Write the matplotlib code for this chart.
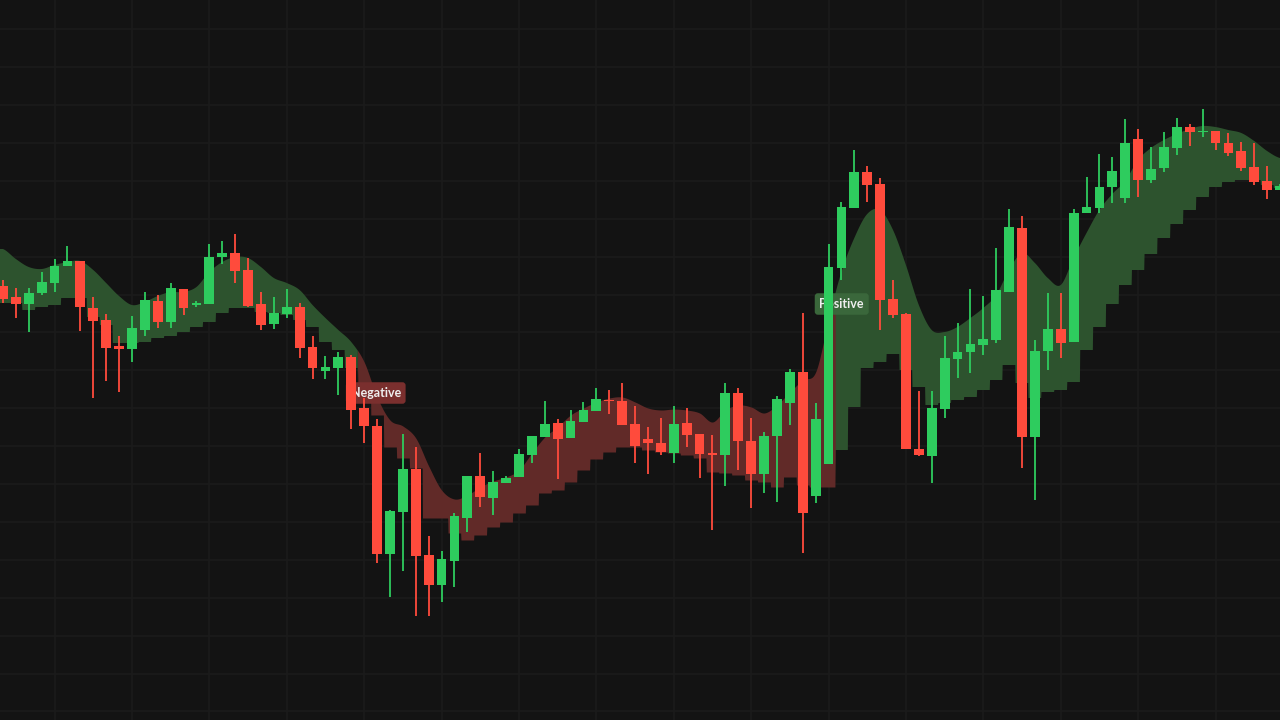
import numpy as np
import matplotlib
matplotlib.use('Agg')
import matplotlib.pyplot as plt

# --- candle data (arbitrary price units) ---
opens = [434, 423, 416, 427, 437, 454, 459, 412, 400, 374,
         371, 390, 419, 398, 431, 415, 416, 463, 467, 450,
         416, 396, 406, 413, 373, 349, 352, 363, 312, 294,
         166, 208, 251, 165, 135, 159, 202, 244, 222, 237,
         243, 265, 283, 297, 282, 298, 309, 320, 319, 296,
         281, 277, 267, 297, 286, 267, 265, 327, 279, 246,
         284, 317, 348, 224, 256, 452, 512, 548, 536, 421,
         406, 271, 264, 311, 361, 368, 375, 380, 428, 492,
         283, 369, 391, 378, 507, 512, 533, 522, 581, 540,
         552, 572, 593, 588, 589, 577, 569, 553, 539, 530]
highs = [440, 432, 432, 448, 461, 474, 459, 423, 406, 384,
         404, 428, 425, 437, 431, 419, 476, 479, 486, 462,
         428, 423, 431, 417, 384, 364, 368, 365, 322, 301,
         210, 286, 273, 184, 169, 207, 244, 267, 249, 244,
         271, 284, 319, 301, 310, 318, 332, 330, 337, 314,
         293, 302, 314, 312, 286, 285, 337, 332, 302, 288,
         324, 351, 407, 317, 476, 518, 570, 554, 542, 440,
         407, 329, 329, 384, 397, 431, 424, 472, 511, 504,
         380, 427, 427, 511, 543, 566, 563, 601, 591, 573,
         588, 602, 596, 611, 589, 587, 578, 577, 554, 536]
lows = [417, 402, 388, 425, 428, 454, 389, 322, 339, 328,
        358, 384, 392, 392, 405, 413, 416, 456, 437, 413,
        390, 391, 402, 362, 341, 341, 325, 291, 277, 157,
        123, 149, 104, 104, 118, 133, 188, 213, 205, 237,
        243, 257, 283, 241, 282, 298, 309, 306, 295, 257,
        246, 265, 257, 273, 242, 190, 234, 250, 212, 227,
        218, 295, 167, 217, 256, 440, 512, 518, 390, 402,
        271, 264, 237, 302, 342, 347, 365, 377, 428, 252,
        220, 350, 362, 378, 507, 507, 517, 517, 523, 537,
        548, 565, 574, 583, 570, 564, 549, 535, 521, 530]
closes = [421, 416, 427, 438, 454, 459, 413, 399, 372, 371,
          392, 420, 398, 432, 412, 417, 463, 467, 449, 414,
          395, 407, 413, 372, 352, 353, 363, 310, 294, 166,
          209, 251, 164, 135, 161, 204, 244, 223, 238, 242,
          266, 284, 296, 281, 299, 310, 321, 319, 295, 274,
          277, 268, 296, 285, 266, 265, 327, 279, 246, 284,
          321, 348, 207, 301, 453, 513, 548, 535, 420, 405,
          271, 265, 312, 362, 368, 376, 381, 430, 493, 283,
          369, 391, 377, 507, 513, 533, 549, 577, 540, 551,
          573, 593, 588, 589, 577, 567, 552, 538, 530, 534]

# --- band: smooth upper line and stepped lower line ---
band_top = [471, 461, 453, 451, 455, 458, 459, 450, 437, 424,
            415, 418, 424, 428, 428, 433, 448, 458, 463, 462,
            453, 442, 437, 430, 415, 402, 390, 378, 358, 323,
            300, 294, 282, 254, 230, 221, 225, 233, 239, 243,
            250, 267, 283, 293, 305, 312, 318, 322, 323, 318,
            312, 310, 311, 310, 307, 298, 310, 315, 313, 307,
            315, 328, 340, 348, 400, 448, 482, 506, 510, 490,
            455, 415, 390, 388, 393, 402, 412, 425, 450, 467,
            457, 442, 435, 462, 487, 510, 526, 539, 560, 572,
            580, 586, 591, 594, 593, 590, 587, 579, 569, 562]
band_bottom = [417, 417, 410, 413, 415, 422, 422, 403, 395, 377,
               377, 378, 382, 384, 388, 393, 398, 407, 412, 412,
               408, 407, 405, 400, 393, 378, 370, 352, 337, 305,
               273, 262, 252, 202, 202, 187, 180, 185, 193, 198,
               207, 215, 227, 230, 238, 250, 261, 268, 273, 273,
               270, 268, 267, 265, 262, 248, 247, 245, 240, 238,
               233, 243, 235, 233, 233, 270, 313, 352, 358, 366,
               350, 333, 315, 317, 320, 323, 330, 340, 355, 337,
               322, 328, 330, 338, 370, 393, 416, 435, 450, 466,
               482, 496, 510, 523, 533, 538, 540, 540, 535, 532]

neg_start = 28   # first candle of the negative regime
pos_start = 65   # first candle of the following positive regime

BG = '#131313'
GRID = '#1b1b1b'
UP = '#2ecc5e'
DOWN = '#ff4b3c'
BAND_UP = '#2d532e'
BAND_DOWN = '#612a28'


def catmull_rom(y, n=24):
    """smooth curve through the points (i, y[i]) for drawing only"""
    y = np.asarray(y, dtype=float)
    pad = np.concatenate([[y[0]], y, [y[-1]]])
    xs, ys = [], []
    t = np.linspace(0, 1, n, endpoint=False)
    for i in range(len(y) - 1):
        p0, p1, p2, p3 = pad[i], pad[i + 1], pad[i + 2], pad[i + 3]
        seg = 0.5 * ((2 * p1) + (-p0 + p2) * t +
                     (2 * p0 - 5 * p1 + 4 * p2 - p3) * t ** 2 +
                     (-p0 + 3 * p1 - 3 * p2 + p3) * t ** 3)
        xs.append(i + t)
        ys.append(seg)
    xs.append([len(y) - 1])
    ys.append([y[-1]])
    return np.concatenate(xs), np.concatenate(ys)


n = len(closes)
idx = np.arange(n)

fig = plt.figure(figsize=(12.8, 7.2), dpi=100, facecolor=BG)
ax = fig.add_axes([0, 0, 1, 1])
ax.set_facecolor(BG)

# grid
for gx in np.arange(4, n, 6):
    ax.axvline(gx, color=GRID, lw=1.1, zorder=0)
for gy in np.arange(690.7, 0, -37.9):
    ax.axhline(gy, color=GRID, lw=1.1, zorder=0)

# band
cx, cy = catmull_rom(band_top)
xf = np.linspace(-0.6, n - 0.4, 4000)
top_f = np.interp(xf, cx, cy)
k = np.clip(np.round(xf), 0, n - 1).astype(int)
bot_f = np.asarray(band_bottom, dtype=float)[k]
neg = (k >= neg_start) & (k < pos_start)
neg_d = neg | np.roll(neg, 1) | np.roll(neg, -1)
pos_d = ~neg | np.roll(~neg, 1) | np.roll(~neg, -1)
ax.fill_between(xf, bot_f, top_f, where=pos_d, color=BAND_UP, lw=0, zorder=1)
ax.fill_between(xf, bot_f, top_f, where=neg_d, color=BAND_DOWN, lw=0, zorder=1)

# regime labels (sit under the candles)
ax.text(26.95, 327, 'Negative', ha='left', va='center', fontsize=9,
        fontfamily='Lato', fontweight='bold', color='#eeeeee', zorder=2,
        bbox=dict(boxstyle='round,pad=0.38,rounding_size=0.25',
                  fc='#7a2f2e', ec='none'))
ax.text(63.3, 416, 'Positive', ha='left', va='center', fontsize=9,
        fontfamily='Lato', fontweight='bold', color='#eeeeee', zorder=2,
        bbox=dict(boxstyle='round,pad=0.38,rounding_size=0.25',
                  fc='#3a673b', ec='none'))

# candles
o = np.array(opens)
c = np.array(closes)
colors = np.where(c >= o, UP, DOWN)
ax.vlines(idx, lows, highs, colors=colors, lw=1.3, zorder=3)
body = np.maximum(np.abs(c - o), 1.5)
ax.bar(idx, body, bottom=np.minimum(o, c), width=0.76, color=colors,
       lw=0, zorder=4)

ax.set_xlim(-0.23, 99.0)
ax.set_ylim(0, 720)
ax.axis('off')

fig.savefig('out.png', dpi=100, facecolor=BG)
